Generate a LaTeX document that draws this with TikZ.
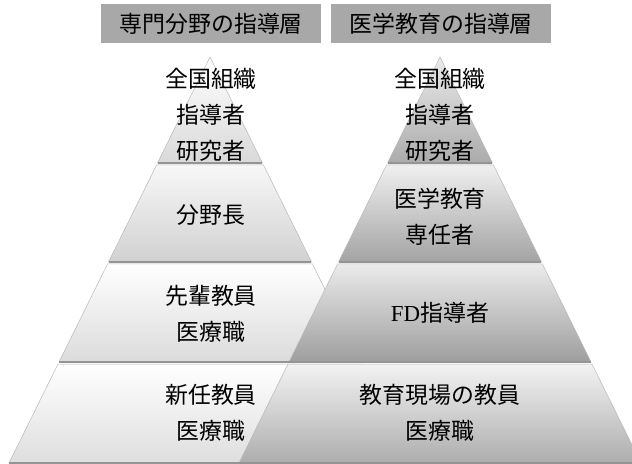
\documentclass[tikz,border=0pt]{standalone}
\usepackage{fontspec}
\newfontfamily\jp{Noto Sans CJK JP}
\newfontfamily\lat{Liberation Serif}
\tikzset{
  lbl/.style={font=\jp\fontsize{23}{36}\selectfont, align=center, inner sep=0pt, text=black},
  ttl/.style={fill=black!34, minimum width=220bp, minimum height=39bp, inner sep=0pt, font=\jp\fontsize{23}{28}\selectfont, anchor=north west},
  edge/.style={draw=black!28, line width=0.5bp},
  base/.style={draw=black!42, line width=1.4bp}
}
\newcommand\lay[5]{% center, ytop, ybot, topcolor, bottomcolor
  \path[top color=#4, bottom color=#5, edge]
    ({#1-0.495*(#2-57)},#2) -- ({#1+0.495*(#2-57)},#2) --
    ({#1+0.495*(#3-57)},#3) -- ({#1-0.495*(#3-57)},#3) -- cycle;
  \draw[base] ({#1-0.495*(#3-57)},#3) -- ({#1+0.495*(#3-57)},#3);
}
\begin{document}
\begin{tikzpicture}[x=1bp,y=-1bp]
\useasboundingbox (0,0) rectangle (632,464);
\clip (0,0) rectangle (632,464);
% titles
\node[ttl] (t1) at (101,4) {専門分野の指導層};
\node[ttl] (t2) at (331,4) {医学教育の指導層};
% left pyramid
\lay{210}{57}{163}{white}{black!15}
\lay{210}{165}{262}{black!3}{black!18}
\lay{210}{264}{362}{white}{black!14}
\lay{210}{364}{463}{white}{black!13}
% right pyramid
\lay{440}{57}{163}{black!8}{black!33}
\lay{440}{165}{262}{black!6}{black!36}
\lay{440}{264}{362}{black!8}{black!38}
\lay{440}{364}{463}{black!5}{black!32}
% labels
\node[lbl] (l1) at (211,115) {全国組織\\指導者\\研究者};
\node[lbl] (l2) at (211,215) {分野長};
\node[lbl] (l3) at (211,314) {先輩教員\\医療職};
\node[lbl] (l4) at (211,413) {新任教員\\医療職};
\node[lbl] (r1) at (440,115) {全国組織\\指導者\\研究者};
\node[lbl] (r2) at (440,217) {医学教育\\専任者};
\node[lbl] (r3) at (440,313) {{\lat FD}指導者};
\node[lbl] (r4) at (440,413) {教育現場の教員\\医療職};
\end{tikzpicture}
\end{document}
